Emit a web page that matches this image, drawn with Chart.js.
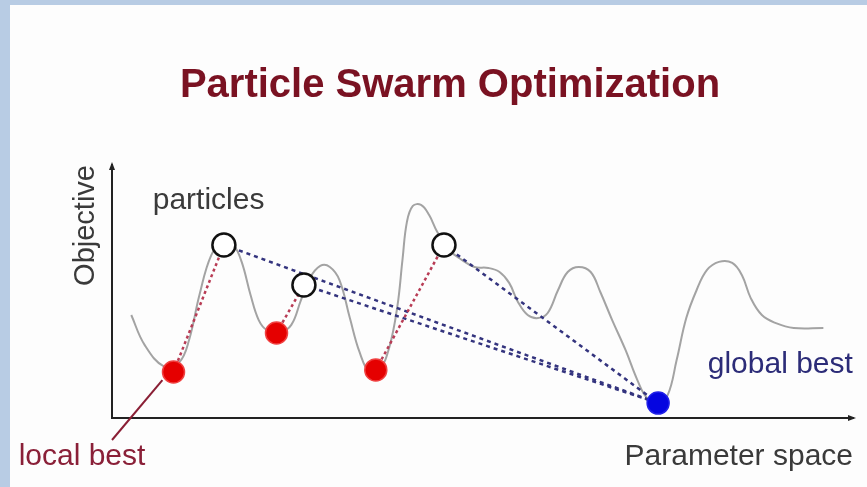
<!DOCTYPE html>
<html>
<head>
<meta charset="utf-8">
<script src="https://cdn.jsdelivr.net/npm/chart.js@4.4.1/dist/chart.umd.min.js"></script>
<style>
  html, body { margin: 0; padding: 0; background: #b8cce4; }
  .frame { position: absolute; left: 10px; top: 5px; width: 857px; height: 482px; background: #fdfdfd; }
  canvas { display: block; }
</style>
</head>
<body>
<div class="frame"><canvas id="pso" width="857" height="482"></canvas></div>
<script>
// objective landscape, x = parameter space (0-100), y = objective (0-100)
const landscapeX = [2.6, 4.4, 7.1, 9.1, 10.4, 11.8, 13.4, 15.1, 16.4, 17.5, 18.7, 19.8, 20.9, 22.7, 24.2, 25.5, 26.7, 28.1, 29.4, 30.7, 32.1, 33.4, 34.8, 36.1, 37.4, 38.5, 39.2, 39.8, 40.6, 41.7, 42.8, 43.9, 45.5, 47.2, 48.9, 50.8, 52.3, 53.6, 54.8, 56.1, 57.5, 58.8, 60.2, 61.5, 63.0, 64.6, 65.9, 67.5, 69.3, 70.9, 72.2, 73.7, 75.0, 76.2, 77.5, 78.9, 80.3, 81.9, 83.7, 85.0, 86.2, 87.7, 89.6, 92.0, 96.0]
const landscapeY = [40.7, 28.9, 20.2, 22.1, 30.8, 48.6, 64.4, 70.4, 68.4, 61.7, 48.6, 38.7, 34.8, 34.0, 36.8, 46.6, 55.3, 60.1, 59.7, 54.5, 39.5, 26.1, 17.8, 19.0, 27.7, 43.9, 62.5, 77.5, 83.8, 84.2, 80.2, 73.5, 66.4, 62.5, 59.7, 59.3, 57.7, 53.4, 45.8, 40.7, 39.5, 41.5, 50.6, 57.7, 59.7, 57.7, 49.8, 38.7, 26.9, 15.0, 7.9, 5.9, 9.1, 22.9, 39.5, 50.6, 58.5, 61.7, 61.3, 56.5, 47.4, 40.7, 37.5, 35.6, 35.6]

// current particles and their personal (local) bests
const particleX = [15.1, 25.9, 44.8]
const particleY = [68.4, 52.6, 68.4]
const localBestX = [8.3, 22.2, 35.6]
const localBestY = [18.2, 33.6, 19.0]
const globalBestX = [73.7]
const globalBestY = [5.9]

// callout for the "local best" label
const calloutX = [6.8, 0]
const calloutY = [15.0, -8.7]

const FONT = "'Liberation Sans', Arial, sans-serif"

const toPoints = (xs, ys) => xs.map((x, i) => ({ x, y: ys[i] }))

const segment = (a, b, color, dash) => ({
  data: [a, b],
  showLine: true,
  borderColor: color,
  borderWidth: 2.5,
  borderDash: dash,
  pointRadius: 0,
  order: 1
})

const particles = toPoints(particleX, particleY)
const locals = toPoints(localBestX, localBestY)
const globalBest = toPoints(globalBestX, globalBestY)[0]

const datasets = [
  { data: particles, pointRadius: 11.5, pointBackgroundColor: "#ffffff", pointBorderColor: "#111111", pointBorderWidth: 2.5, order: 0 },
  { data: locals, pointRadius: 11, pointBackgroundColor: "#e50000", pointBorderColor: "#f04040", pointBorderWidth: 1.5, order: 0 },
  { data: [globalBest], pointRadius: 11, pointBackgroundColor: "#0505e0", pointBorderColor: "#2020e8", pointBorderWidth: 1.5, order: 0 },
  { data: toPoints(calloutX, calloutY), showLine: true, borderColor: "#8a1f35", borderWidth: 2, pointRadius: 0, clip: false, order: 1 },
  ...particles.map((p, i) => segment(locals[i], p, "#b83c55", [3, 3])),
  ...particles.map((p) => segment(p, globalBest, "#34347e", [4, 4])),
  { data: toPoints(landscapeX, landscapeY), showLine: true, borderColor: "#a3a3a3", borderWidth: 2, tension: 0.4, pointRadius: 0, order: 2 }
]

// arrowheads on the axes plus the free text labels
const annotations = {
  id: "psoAnnotations",
  afterDraw(chart) {
    const { ctx, chartArea } = chart
    const x = chart.scales.x
    const y = chart.scales.y

    ctx.save()
    ctx.fillStyle = "#222222"
    ctx.beginPath()
    ctx.moveTo(chartArea.left, chartArea.top - 3)
    ctx.lineTo(chartArea.left - 3, chartArea.top + 5)
    ctx.lineTo(chartArea.left + 3, chartArea.top + 5)
    ctx.fill()
    ctx.beginPath()
    ctx.moveTo(chartArea.right + 3, chartArea.bottom)
    ctx.lineTo(chartArea.right - 5, chartArea.bottom - 3)
    ctx.lineTo(chartArea.right - 5, chartArea.bottom + 3)
    ctx.fill()

    ctx.font = `30px ${FONT}`
    ctx.textBaseline = "alphabetic"
    ctx.textAlign = "left"
    ctx.fillStyle = "#3a3a3a"
    ctx.fillText("particles", x.getPixelForValue(5.5), y.getPixelForValue(82.6))
    ctx.fillStyle = "#2c2c78"
    ctx.fillText("global best", x.getPixelForValue(80.4), y.getPixelForValue(17.8))
    ctx.fillStyle = "#8a2038"
    ctx.fillText("local best", x.getPixelForValue(-12.6), y.getPixelForValue(-18.6))
    ctx.restore()
  }
}

new Chart(document.getElementById("pso"), {
  type: "scatter",
  data: { datasets },
  options: {
    responsive: false,
    animation: false,
    layout: { padding: { left: 33, right: 10, top: 0, bottom: 0 } },
    plugins: {
      legend: { display: false },
      tooltip: { enabled: false },
      title: {
        display: true,
        text: "Particle Swarm Optimization",
        color: "#7a1222",
        font: { family: FONT, size: 40, weight: "bold" },
        padding: { top: 57, bottom: 55 }
      }
    },
    scales: {
      x: {
        min: 0,
        max: 100,
        grid: { display: false },
        ticks: { display: false },
        border: { color: "#222222", width: 2 },
        title: { display: true, text: "Parameter space", align: "end", color: "#3a3a3a", font: { family: FONT, size: 30 }, padding: { top: 0, bottom: 12 } },
        afterFit: (scale) => { scale.height = 69 }
      },
      y: {
        min: 0,
        max: 100,
        grid: { display: false },
        ticks: { display: false },
        border: { color: "#222222", width: 2 },
        title: { display: true, text: "Objective", align: "end", color: "#3a3a3a", font: { family: FONT, size: 29 }, padding: { top: 26, bottom: 0 } },
        afterFit: (scale) => { scale.width = 69 }
      }
    }
  },
  plugins: [ annotations ]
})
</script>
</body>
</html>
